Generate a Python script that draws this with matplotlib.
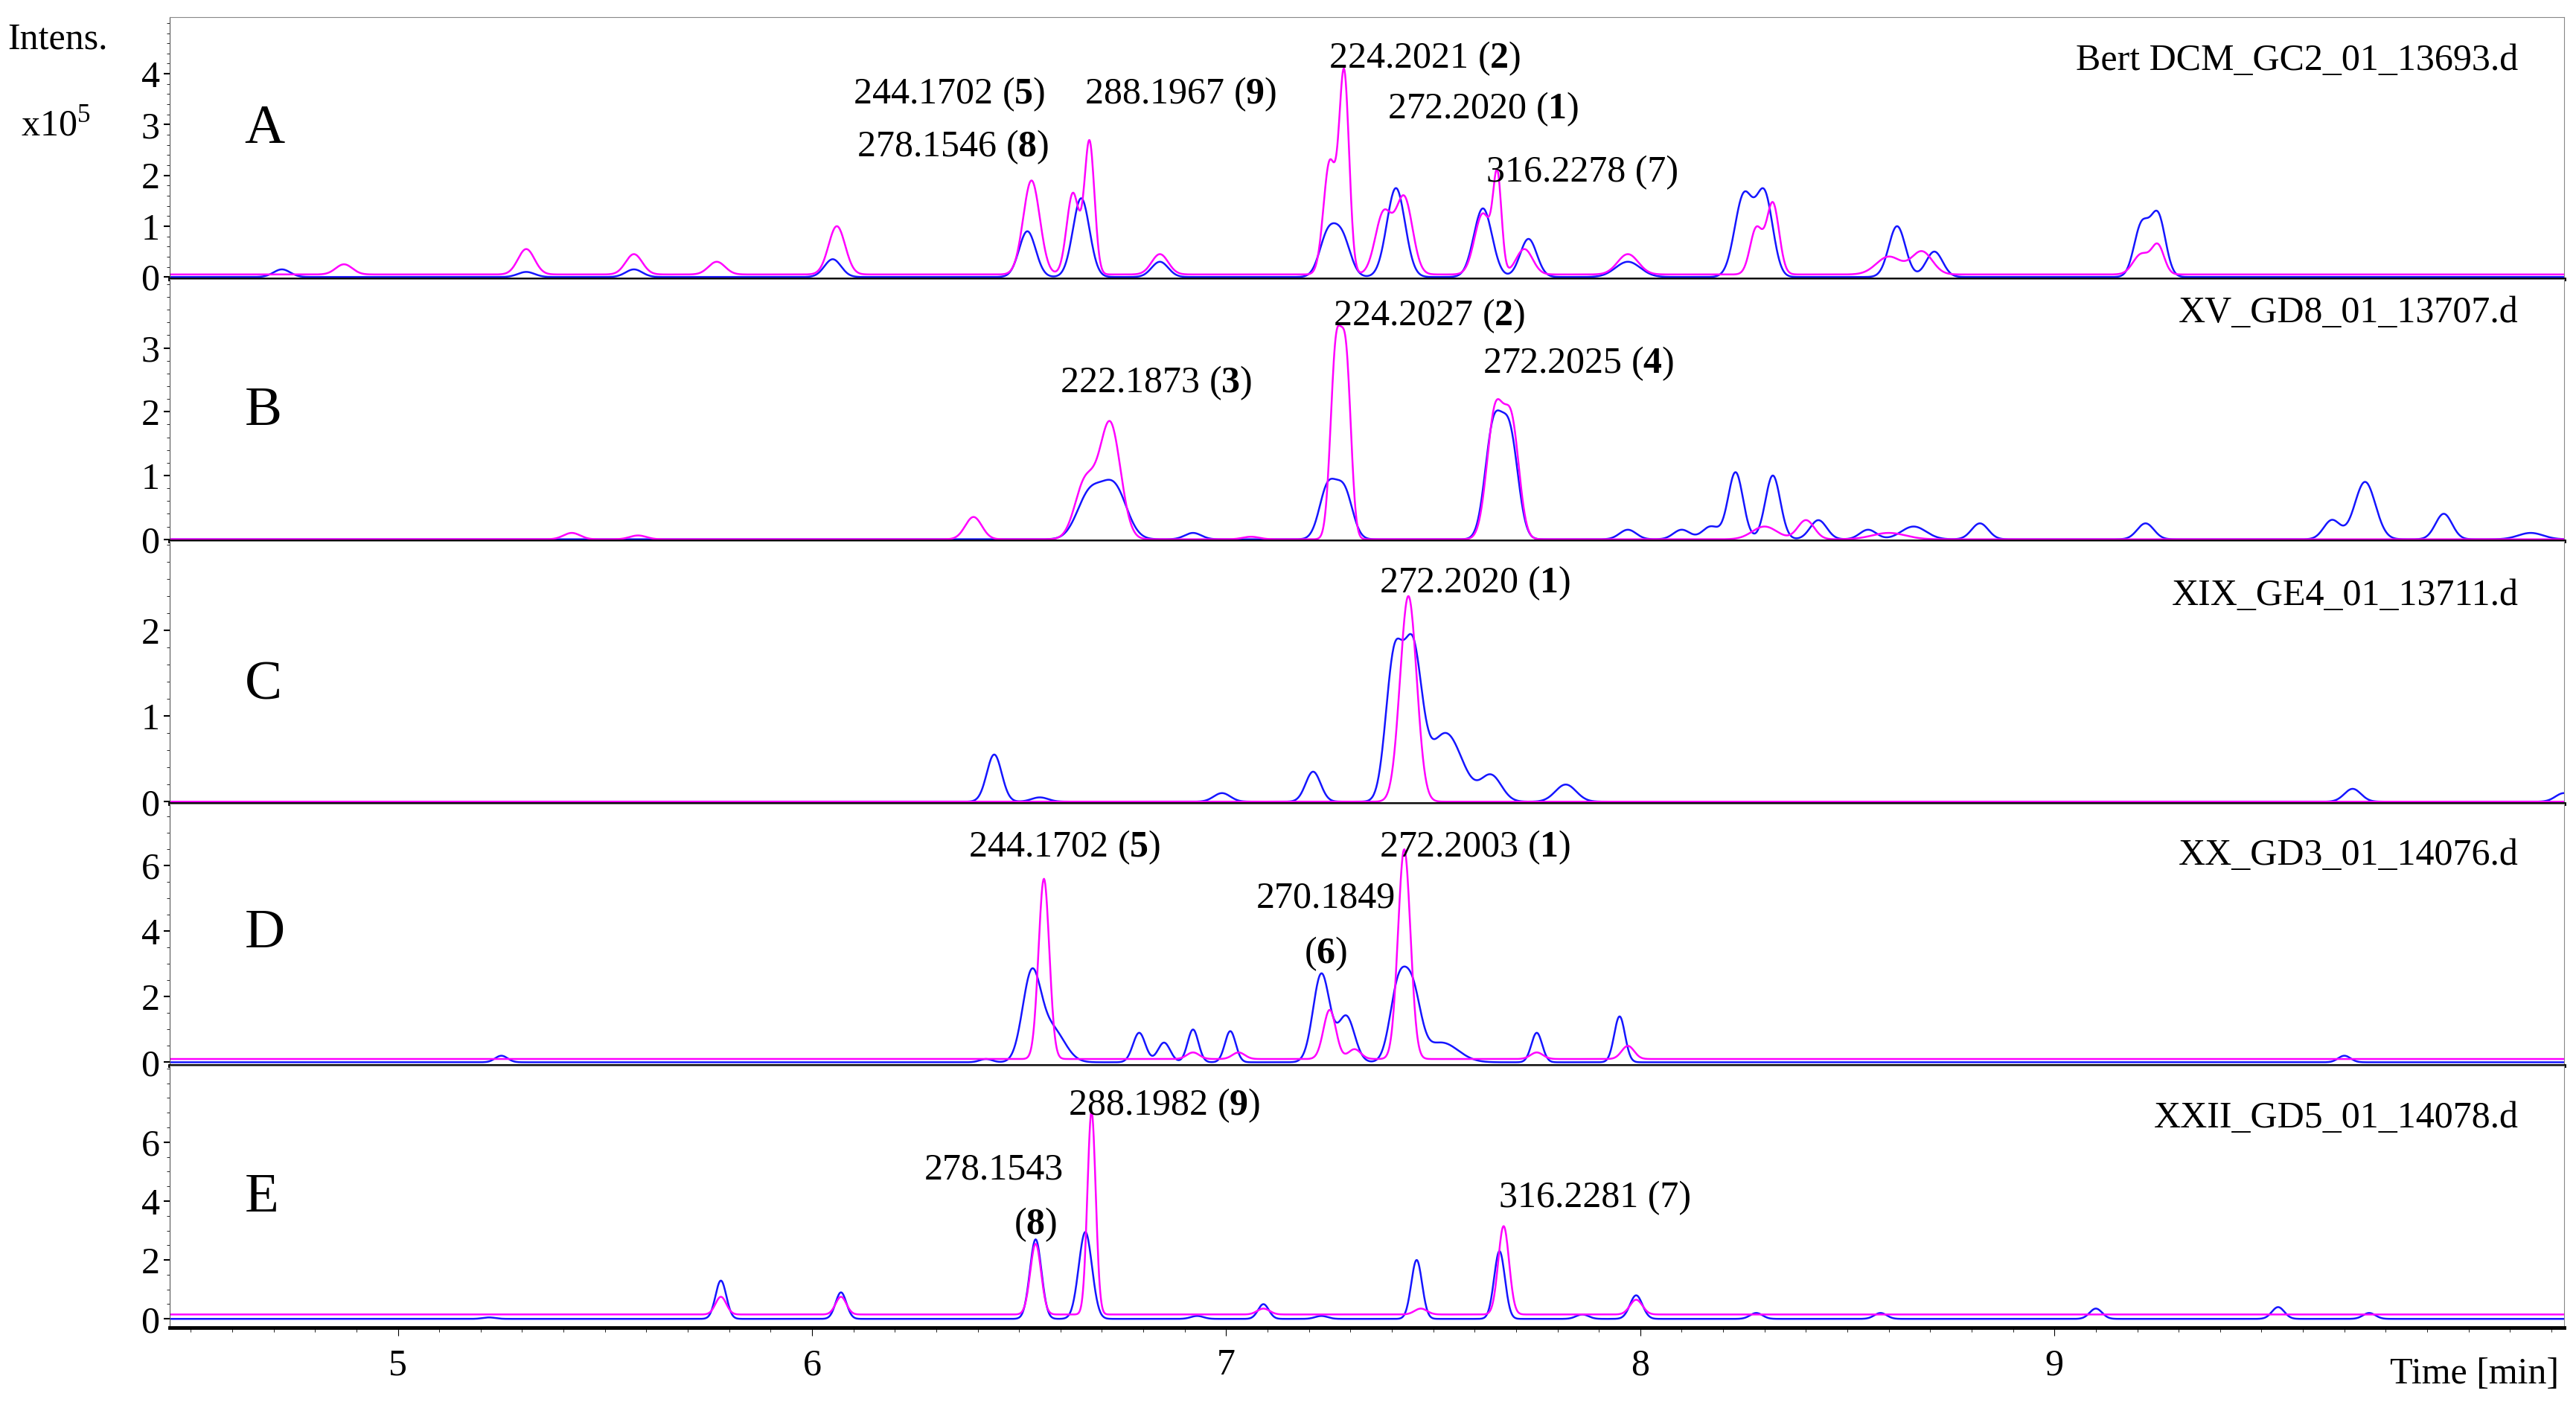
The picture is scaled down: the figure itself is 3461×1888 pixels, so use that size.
import numpy as np
import matplotlib
matplotlib.use('Agg')
import matplotlib.pyplot as plt
from matplotlib.ticker import MultipleLocator, AutoMinorLocator, FixedFormatter

plt.rcParams['font.family'] = ['Liberation Serif', 'DejaVu Serif']
plt.rcParams['mathtext.fontset'] = 'custom'
plt.rcParams['mathtext.rm'] = 'Liberation Serif'
plt.rcParams['mathtext.bf'] = 'Liberation Serif:bold'

# peak tables: (retention time [min], intensity [x10^5], width [min])
A_mag = [(4.87, 0.2, 0.02), (5.31, 0.5, 0.02), (5.57, 0.4, 0.02), (5.77, 0.25, 0.02), (6.06, 0.95, 0.02),
         (6.53, 1.85, 0.02), (6.63, 1.6, 0.015), (6.67, 2.6, 0.012), (6.84, 0.4, 0.02), (7.25, 2.2, 0.015),
         (7.285, 3.9, 0.012), (7.38, 1.2, 0.02), (7.43, 1.5, 0.02), (7.62, 1.2, 0.02), (7.655, 1.8, 0.01),
         (7.72, 0.5, 0.02), (7.97, 0.4, 0.025), (8.28, 0.9, 0.015), (8.32, 1.4, 0.015), (8.6, 0.35, 0.03),
         (8.68, 0.45, 0.025), (9.21, 0.4, 0.02), (9.25, 0.55, 0.015)]
A_blue = [(4.72, 0.15, 0.02), (5.31, 0.1, 0.02), (5.57, 0.15, 0.02), (6.05, 0.35, 0.02), (6.52, 0.9, 0.02),
          (6.65, 1.55, 0.02), (6.84, 0.3, 0.02), (7.245, 0.8, 0.02), (7.28, 0.75, 0.02), (7.41, 1.75, 0.022),
          (7.62, 1.35, 0.022), (7.73, 0.75, 0.02), (7.97, 0.3, 0.03), (8.25, 1.6, 0.022), (8.30, 1.6, 0.02),
          (8.62, 1.0, 0.02), (8.71, 0.5, 0.02), (9.21, 1.0, 0.018), (9.25, 1.2, 0.018)]
B_mag = [(5.42, 0.1, 0.02), (5.58, 0.06, 0.02), (6.39, 0.35, 0.02), (6.66, 0.9, 0.025), (6.72, 1.8, 0.025),
         (7.06, 0.04, 0.02), (7.265, 2.9, 0.013), (7.29, 2.6, 0.012), (7.65, 2.0, 0.02), (7.69, 1.7, 0.018),
         (8.3, 0.2, 0.03), (8.4, 0.3, 0.02), (8.6, 0.1, 0.04)]
B_blue = [(6.67, 0.7, 0.03), (6.73, 0.8, 0.03), (6.92, 0.1, 0.02), (7.245, 0.8, 0.02), (7.285, 0.75, 0.02),
          (7.645, 1.7, 0.02), (7.685, 1.6, 0.02), (7.97, 0.15, 0.02), (8.1, 0.15, 0.02), (8.17, 0.2, 0.02),
          (8.23, 1.05, 0.018), (8.32, 1.0, 0.018), (8.43, 0.3, 0.02), (8.55, 0.15, 0.02), (8.66, 0.2, 0.03),
          (8.82, 0.25, 0.02), (9.22, 0.25, 0.02), (9.67, 0.3, 0.02), (9.75, 0.9, 0.025), (9.94, 0.4, 0.02),
          (10.15, 0.1, 0.03)]
C_mag = [(7.44, 2.4, 0.02)]
C_blue = [(6.44, 0.55, 0.018), (6.55, 0.05, 0.02), (6.99, 0.1, 0.02), (7.21, 0.35, 0.018), (7.405, 1.6, 0.02),
          (7.45, 1.7, 0.022), (7.53, 0.8, 0.04), (7.64, 0.3, 0.025), (7.82, 0.2, 0.025), (9.72, 0.15, 0.02),
          (10.23, 0.1, 0.02)]
D_mag = [(6.56, 5.5, 0.013), (6.92, 0.2, 0.015), (7.03, 0.2, 0.015), (7.25, 1.5, 0.015), (7.31, 0.3, 0.015),
         (7.43, 6.4, 0.015), (7.75, 0.2, 0.015), (7.97, 0.4, 0.015)]
D_blue = [(5.25, 0.2, 0.015), (6.42, 0.1, 0.015), (6.53, 2.6, 0.022), (6.58, 1.0, 0.03), (6.79, 0.9, 0.015),
          (6.85, 0.6, 0.015), (6.92, 1.0, 0.013), (7.01, 0.95, 0.013), (7.23, 2.7, 0.02), (7.29, 1.4, 0.02),
          (7.415, 2.2, 0.02), (7.45, 2.0, 0.02), (7.52, 0.6, 0.04), (7.75, 0.9, 0.013), (7.95, 1.4, 0.013),
          (9.7, 0.2, 0.015)]
E_mag = [(5.78, 0.6, 0.013), (6.07, 0.6, 0.013), (6.54, 2.4, 0.013), (6.675, 6.9, 0.01), (7.09, 0.2, 0.015),
         (7.47, 0.2, 0.015), (7.67, 3.0, 0.013), (7.99, 0.5, 0.015)]
E_blue = [(5.22, 0.05, 0.015), (5.78, 1.3, 0.013), (6.07, 0.9, 0.013), (6.54, 2.7, 0.014), (6.66, 2.95, 0.016),
          (6.93, 0.1, 0.015), (7.09, 0.5, 0.013), (7.23, 0.1, 0.015), (7.46, 2.0, 0.013), (7.66, 2.3, 0.013),
          (7.86, 0.15, 0.015), (7.99, 0.8, 0.015), (8.28, 0.2, 0.015), (8.58, 0.2, 0.015), (9.1, 0.35, 0.015),
          (9.54, 0.4, 0.015), (9.76, 0.2, 0.015)]

mag_base = [0.05, 0.0, 0.0, 0.1, 0.15]
letters = ['A', 'B', 'C', 'D', 'E']
files = ['Bert DCM_GC2_01_13693.d', 'XV_GD8_01_13707.d', 'XIX_GE4_01_13711.d',
         'XX_GD3_01_14076.d', 'XXII_GD5_01_14078.d']
ylims = [(-0.04, 5.12), (-0.03, 4.08), (-0.02, 3.04), (-0.1, 7.9), (-0.3, 8.6)]
yticks = [[0, 1, 2, 3, 4], [0, 1, 2, 3], [0, 1, 2], [0, 2, 4, 6], [0, 2, 4, 6]]
letter_y = [2.9, 2.0, 1.35, 3.9, 4.1]
x_ticks = [5, 6, 7, 8, 9]

# (text, x, y); digit in parentheses drawn bold
labels = [
    [('244.1702 (5)', 6.33, 3.6), ('288.1967 (9)', 6.89, 3.6), ('278.1546 (8)', 6.34, 2.55),
     ('224.2021 (2)', 7.48, 4.3), ('272.2020 (1)', 7.62, 3.3), ('316.2278 (7)', 7.86, 2.05)],
    [('222.1873 (3)', 6.83, 2.45), ('224.2027 (2)', 7.49, 3.5), ('272.2025 (4)', 7.85, 2.75)],
    [('272.2020 (1)', 7.6, 2.55)],
    [('244.1702 (5)', 6.61, 6.55), ('272.2003 (1)', 7.6, 6.55), ('270.1849', 7.24, 5.0), ('(6)', 7.24, 3.3)],
    [('288.1982 (9)', 6.85, 7.25), ('278.1543', 6.44, 5.05), ('(8)', 6.54, 3.2), ('316.2281 (7)', 7.89, 4.1)],
]
file_y = [4.25, 3.55, 2.4, 6.3, 6.8]

t = np.linspace(4.45, 10.23, 4000)


def trace(peaks, base):
    y = np.full_like(t, base)
    for c, h, w in peaks:
        y += h * np.exp(-0.5 * ((t - c) / w) ** 2)
    return y


fig, axes = plt.subplots(5, 1, figsize=(34.62, 18.88), dpi=100, sharex=True)
fig.subplots_adjust(left=0.066, right=0.995, top=0.988, bottom=0.055, hspace=0)

mags = [A_mag, B_mag, C_mag, D_mag, E_mag]
blues = [A_blue, B_blue, C_blue, D_blue, E_blue]
fs = 36
for i, ax in enumerate(axes):
    ax.plot(t, trace(blues[i], 0.0), color='#1515ff', lw=1.8)
    ax.plot(t, trace(mags[i], mag_base[i]), color='#ff00ff', lw=1.8)
    ax.set_xlim(4.45, 10.23)
    ax.set_ylim(*ylims[i])
    ax.set_yticks(yticks[i])
    ax.yaxis.set_minor_locator(AutoMinorLocator(5 if i < 3 else 4))
    ax.tick_params(axis='y', labelsize=fs, length=6, width=1.5, direction='out', pad=4)
    ax.tick_params(axis='y', which='minor', length=3)
    ax.spines['right'].set_color('#888888')
    ax.spines['top'].set_color('#888888')
    ax.spines['bottom'].set_linewidth(3.5)
    ax.spines['left'].set_color('#555555')
    ax.text(4.63, letter_y[i], letters[i], fontsize=54, va='center', ha='left')
    ax.text(10.12, file_y[i], files[i], fontsize=fs, ha='right', va='center')
    for s, x, y in labels[i]:
        if s.endswith(')'):
            num = s[s.index('(') + 1:-1]
            pre = s[:s.index('(')]
            if num != '7':
                s = pre + r'($\mathbf{' + num + '}$)'
        ax.text(x, y, s, fontsize=fs, ha='center', va='center')

axes[-1].set_xticks(x_ticks)
axes[-1].set_xticklabels([str(v) for v in x_ticks])
axes[-1].xaxis.set_minor_locator(MultipleLocator(0.1))
axes[-1].tick_params(axis='x', labelsize=fs, length=8, pad=12)
axes[-1].tick_params(axis='x', which='minor', length=4)
for ax in axes[:-1]:
    ax.tick_params(axis='x', which='both', length=0)

fig.text(0.003, 0.972, 'Intens.', fontsize=fs, ha='left', va='center')
fig.text(0.008, 0.91, r'x10$^{5}$', fontsize=fs, ha='left', va='center')
fig.text(0.993, 0.022, 'Time [min]', fontsize=fs, ha='right', va='center')

fig.savefig('out.png', dpi=100)
